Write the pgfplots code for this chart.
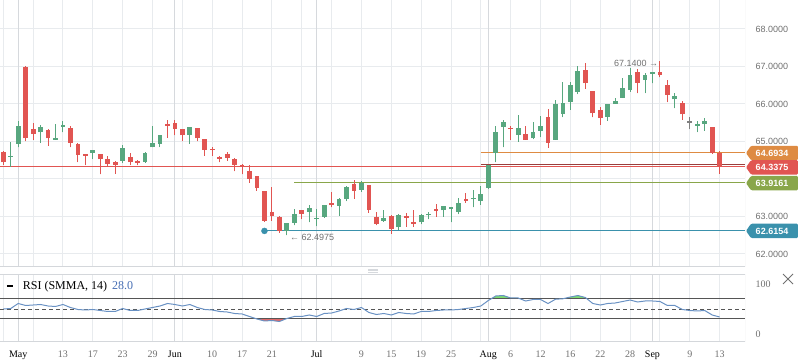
\documentclass[border=0pt]{standalone}
\usepackage{fontspec}
\setmainfont{Liberation Serif}
\newfontfamily\sansf{Liberation Sans}
\usepackage{pgfplots}
\pgfplotsset{compat=1.18}
\usepackage{pgfplotstable}

\definecolor{cgreen}{RGB}{88,167,127}
\definecolor{cred}{RGB}{225,85,82}
\definecolor{cgray}{RGB}{128,128,128}
\definecolor{corange}{RGB}{222,139,66}
\definecolor{clime}{RGB}{137,166,74}
\definecolor{cblue}{RGB}{58,145,172}
\definecolor{cdark}{RGB}{155,62,60}
\definecolor{gridc}{RGB}{232,235,238}
\definecolor{gridm}{RGB}{214,217,221}
\definecolor{bord}{RGB}{212,215,219}
\definecolor{tickc}{RGB}{112,112,112}
\definecolor{rsiline}{RGB}{105,145,195}
\definecolor{rsitext}{RGB}{70,110,180}
\definecolor{fillg}{RGB}{125,220,115}
\definecolor{fillr}{RGB}{225,105,105}
\definecolor{lvl}{RGB}{85,85,85}

\pgfplotstableread{
i o h l c
1 64.58 64.98 64.33 64.62
2 64.94 65.55 64.84 65.41
5 65.24 65.43 64.97 65.39
7 65.05 65.47 65.05 65.09
8 65.39 65.55 65.24 65.43
12 64.70 64.77 64.53 64.76
16 64.48 64.91 64.42 64.83
19 64.45 64.72 64.43 64.69
20 64.84 65.40 64.84 64.96
21 64.94 65.17 64.85 65.16
25 65.18 65.39 64.94 65.39
38 62.61 62.82 62.4975 62.82
39 62.83 63.20 62.76 63.07
41 63.12 63.30 62.84 63.23
42 62.93 63.20 62.74 62.97
43 62.99 63.30 62.97 63.30
45 63.28 63.50 63.02 63.47
46 63.46 63.82 63.41 63.78
48 63.71 63.94 63.66 63.89
51 62.89 63.17 62.86 62.96
53 62.71 63.07 62.64 63.05
56 62.84 63.06 62.79 63.03
57 63.03 63.11 62.92 63.07
59 63.16 63.27 62.99 63.27
60 63.21 63.24 62.84 63.25
61 63.12 63.49 63.06 63.36
63 63.46 63.71 63.24 63.50
64 63.42 63.80 63.31 63.60
65 63.77 64.37 63.73 64.37
66 64.69 65.42 64.44 65.25
67 65.38 65.57 64.84 65.52
69 65.18 65.71 64.99 65.36
71 65.08 65.52 65.06 65.25
72 65.28 65.68 65.11 65.41
74 65.04 66.11 65.04 66.00
75 65.74 66.58 65.65 66.03
76 66.06 66.58 65.84 66.51
77 66.33 67.01 66.26 66.88
81 65.66 66.00 65.55 66.00
82 66.00 66.15 66.00 66.08
83 66.16 66.68 66.16 66.43
84 66.37 66.95 66.33 66.77
86 66.64 66.83 66.29 66.77
87 66.81 66.86 66.55 66.85
90 66.12 66.29 65.88 66.21
93 65.42 65.55 65.25 65.47
94 65.47 65.63 65.29 65.54
}\upC

\pgfplotstableread{
i o h l c
0 64.72 64.75 64.38 64.44
3 66.99 67.00 65.00 65.08
4 65.33 65.48 65.05 65.21
6 65.31 65.33 64.89 65.08
9 65.36 65.41 64.84 64.97
10 64.92 64.95 64.45 64.65
11 64.66 64.66 64.37 64.62
13 64.67 64.67 64.12 64.52
14 64.53 64.61 64.32 64.41
15 64.44 64.48 64.14 64.38
17 64.59 64.69 64.37 64.45
18 64.48 64.51 64.36 64.43
22 65.46 65.57 65.10 65.42
23 65.49 65.57 65.16 65.34
24 65.33 65.33 65.00 65.16
26 65.36 65.36 65.00 65.08
27 65.07 65.07 64.62 64.78
28 64.81 64.85 64.62 64.77
29 64.59 64.61 64.44 64.54
30 64.67 64.72 64.49 64.57
31 64.53 64.56 64.20 64.38
32 64.37 64.39 64.12 64.33
33 64.21 64.38 63.90 64.00
34 64.08 64.08 63.69 63.77
35 63.68 63.68 62.86 62.89
36 63.12 63.78 62.88 63.02
37 62.99 63.00 62.56 62.61
40 63.17 63.17 62.92 63.07
44 63.36 63.66 63.24 63.30
47 63.87 63.97 63.47 63.69
49 63.84 63.84 63.10 63.18
50 62.99 63.11 62.76 62.81
52 63.01 63.03 62.54 62.66
54 63.00 63.10 62.72 62.96
55 62.85 63.17 62.72 62.81
58 63.19 63.33 62.99 63.15
62 63.46 63.63 63.37 63.42
68 65.37 65.40 65.05 65.33
70 65.19 65.40 65.05 65.05
73 65.65 65.87 64.83 64.96
78 66.91 67.10 66.41 66.55
79 66.34 66.35 65.64 65.75
80 65.84 65.93 65.45 65.62
85 66.85 66.93 66.28 66.57
88 66.85 67.14 66.71 66.76
89 66.51 66.64 66.05 66.24
91 66.03 66.08 65.58 65.72
95 65.39 65.39 64.67 64.69
96 64.69 64.74 64.14 64.34
}\downC

\pgfplotstableread{
i o h l c
92 65.52 65.64 65.33 65.52
}\flatC

\pgfplotstableread{
i r
0 50
1 51
2 61
3 57
4 58
5 59
6 56
7 55
8 59
9 53
10 49
11 48
12 49
13 47
14 45
15 45
16 51
17 47
18 47
19 50
20 53
21 56
22 61
23 59
24 56
25 59
26 53
27 49
28 48
29 45
30 44
31 41
32 40
33 35
34 30
35 26
36 27
37 25
38 31
39 35
40 35
41 38
42 35
43 41
44 42
45 46
46 51
47 49
48 53
49 43
50 39
51 41
52 38
53 43
54 41
55 40
56 45
57 45
58 47
59 48
60 48
61 49
62 51
63 53
64 56
65 67
66 76
67 77
68 72
69 72
70 66
71 69
72 69
73 61
74 69.5
75 70.5
76 74
77 77
78 73
79 61
80 58
81 61
82 62
83 65
84 68
85 64
86 66
87 66
88 65
89 57
90 57
91 49
92 47
93 46
94 47
95 38
96 34
}\rsiT

\pgfplotsset{
  candlewick/.style={only marks, mark=*, mark size=0pt, mark options={draw=none, fill=none}, forget plot,
    error bars/.cd, y dir=plus, y explicit, error mark=none,
    error bar style={line width=1pt, #1}},
  candlebody/.style={only marks, mark=*, mark size=0pt, mark options={draw=none, fill=none}, forget plot,
    error bars/.cd, y dir=plus, y explicit, error mark=none,
    error bar style={line width=4.8pt, #1}},
}

\begin{document}
\begin{tikzpicture}[x=1pt,y=1pt]
\path[use as bounding box] (0,0) rectangle (798,363);

% ---------------- main price panel ----------------
\begin{axis}[
  at={(0pt,96pt)}, anchor=south west, scale only axis,
  width=745pt, height=267pt,
  xmin=-0.44, xmax=99.4, ymin=61.653, ymax=68.773,
  axis line style={draw=none},
  major tick length=0pt,
  xtick={0,4,8,12,16,20,24,28,32,36,40,44,48,52,56,60,64,68,72,76,80,84,88,92,96},
  xticklabels={},
  extra x ticks={2,23,42,65,87},
  extra x tick labels={},
  extra x tick style={grid style={gridm, line width=1pt}},
  ytick={62,63,64,65,66,67,68},
  yticklabels={62.0000,63.0000,{},65.0000,66.0000,67.0000,68.0000},
  yticklabel pos=right,
  yticklabel style={font=\sansf\fontsize{9}{10}\selectfont, text=tickc, anchor=west, xshift=7pt},
  xmajorgrids, ymajorgrids,
  grid style={gridc, line width=1pt},
]
\draw[bord, line width=1pt] (rel axis cs:0,0) -- (rel axis cs:1,0) -- (rel axis cs:1,1);

% level lines
\addplot[cred, line width=1pt, forget plot] coordinates {(-0.44,64.3375) (99.4,64.3375)};
\addplot[cdark, line width=1pt, forget plot] coordinates {(64,64.38) (99.4,64.38)};
\addplot[corange, line width=1pt, forget plot] coordinates {(64,64.6934) (99.4,64.6934)};
\addplot[clime, line width=1pt, forget plot] coordinates {(39,63.9161) (99.4,63.9161)};
\addplot[cblue, line width=1pt, forget plot] coordinates {(35,62.6154) (99.4,62.6154)};
\addplot[only marks, mark=*, mark size=3pt, cblue, forget plot] coordinates {(35,62.6154)};

% candles
\addplot[candlewick=cgreen] table[x=i, y=l, y error plus expr={\thisrow{h}-\thisrow{l}}] {\upC};
\addplot[candlebody=cgreen] table[x=i, y=o, y error plus expr={\thisrow{c}-\thisrow{o}}] {\upC};
\addplot[candlewick=cred] table[x=i, y=l, y error plus expr={\thisrow{h}-\thisrow{l}}] {\downC};
\addplot[candlebody=cred] table[x=i, y=c, y error plus expr={\thisrow{o}-\thisrow{c}}] {\downC};
\addplot[candlewick=cgray] table[x=i, y=l, y error plus expr={\thisrow{h}-\thisrow{l}}] {\flatC};
\addplot[candlebody=cgray] table[x=i, y expr={\thisrow{c}-0.015}, y error plus expr={0.03}] {\flatC};

\node[anchor=east, inner sep=0, font=\sansf\fontsize{9}{10}\selectfont, text=tickc] at (axis cs:87.8,67.09) {67.1400 →};
\node[anchor=west, inner sep=0, font=\sansf\fontsize{9}{10}\selectfont, text=tickc] at (axis cs:38.4,62.45) {← 62.4975};

\coordinate (bo) at (axis cs:99.4,64.6934);
\coordinate (br) at (axis cs:99.4,64.31);
\coordinate (bg) at (axis cs:99.4,63.89);
\coordinate (bb) at (axis cs:99.4,62.6154);
\end{axis}

% price label boxes
\foreach \p/\c/\t in {bo/corange/64.6934, br/cred/64.3375, bg/clime/63.9161, bb/cblue/62.6154}{
  \fill[\c, rounded corners=1.2pt] (\p) ++(1,0) -- ++(5,7.2) -- ++(47,0) -- ++(0,-14.4) -- ++(-47,0) -- cycle;
  \node[text=white, inner sep=0, font=\sansf\bfseries\fontsize{9}{10}\selectfont] at ([xshift=27pt]\p) {\t};
}

% drag handle
\draw[gridm, line width=0.8pt] (368,94) -- (378,94) (368,92.5) -- (378,92.5) (368,91) -- (378,91);

% ---------------- RSI panel ----------------
\begin{axis}[
  at={(0pt,21pt)}, anchor=south west, scale only axis,
  width=745pt, height=67pt,
  xmin=-0.44, xmax=99.4, ymin=-16, ymax=118,
  axis line style={draw=none},
  major tick length=0pt,
  xtick={0,4,8,12,16,20,24,28,32,36,40,44,48,52,56,60,64,68,72,76,80,84,88,92,96},
  xticklabels={,,13,17,23,29,,10,17,21,,,9,15,19,25,,6,12,16,22,28,,9,13},
  extra x ticks={2,23,42,65,87},
  extra x tick labels={May,Jun,Jul,Aug,Sep},
  extra x tick style={grid style={gridm, line width=1pt}, xticklabel style={text=black}},
  xticklabel style={font=\fontsize{10}{11}\selectfont, text=tickc, yshift=-5pt},
  ytick={0,100},
  yticklabels={0,100},
  yticklabel pos=right,
  yticklabel style={font=\fontsize{10}{11}\selectfont, text=tickc, anchor=west, xshift=7pt},
  xmajorgrids,
  grid style={gridc, line width=1pt},
]
\draw[bord, line width=1pt] (rel axis cs:0,1) -- (rel axis cs:1,1) -- (rel axis cs:1,0) -- (rel axis cs:0,0);

\begin{scope}
\clip (axis cs:-1,70) rectangle (axis cs:100,118);
\addplot[fill=fillg, draw=none, forget plot] table[x=i, y=r] {\rsiT} -- (axis cs:96,-16) -- (axis cs:0,-16) -- cycle;
\end{scope}
\begin{scope}
\clip (axis cs:-1,-16) rectangle (axis cs:100,30);
\addplot[fill=fillr, draw=none, forget plot] table[x=i, y=r] {\rsiT} -- (axis cs:96,118) -- (axis cs:0,118) -- cycle;
\end{scope}

\addplot[lvl, line width=1pt, forget plot] coordinates {(-0.44,70) (99.4,70)};
\addplot[lvl, line width=1pt, forget plot] coordinates {(-0.44,30) (99.4,30)};
\addplot[lvl, line width=0.9pt, dash pattern=on 4pt off 3pt, forget plot] coordinates {(-0.44,50) (99.4,50)};
\addplot[rsiline, line width=1pt, forget plot] table[x=i, y=r] {\rsiT};

\node[anchor=west, inner sep=0, font=\fontsize{12}{13}\selectfont] at (axis cs:-0.44,94)
  {\hspace{6.7pt}\rule[3pt]{6.5pt}{1.6pt}\hspace{9.5pt}RSI (SMMA, 14)\hspace{5pt}\textcolor{rsitext}{28.0}};
\end{axis}

% close icon
\draw[tickc, line width=0.9pt] (783,79) -- (793,89) (783,89) -- (793,79);
\end{tikzpicture}
\end{document}
